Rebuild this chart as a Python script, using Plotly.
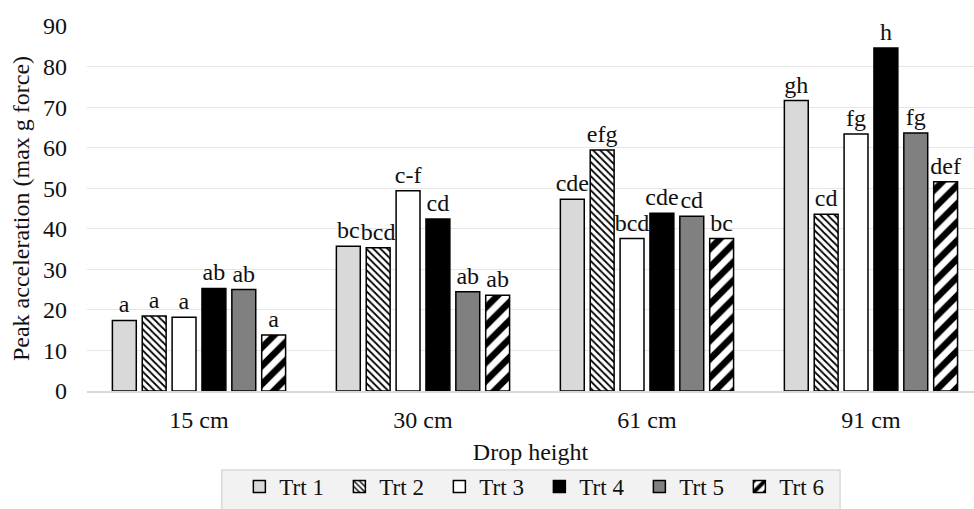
import plotly.graph_objects as go

categories = ["15 cm", "30 cm", "61 cm", "91 cm"]
treatments = ["Trt 1", "Trt 2", "Trt 3", "Trt 4", "Trt 5", "Trt 6"]

trt1 = [17.4, 35.7, 47.3, 71.6]
trt2 = [18.5, 35.3, 59.4, 43.6]
trt3 = [18.2, 49.4, 37.6, 63.4]
trt4 = [25.3, 42.4, 43.8, 84.6]
trt5 = [25.0, 24.5, 43.1, 63.6]
trt6 = [13.8, 23.6, 37.6, 51.6]

lbl1 = ["a", "bc", "cde", "gh"]
lbl2 = ["a", "bcd", "efg", "cd"]
lbl3 = ["a", "c-f", "bcd", "fg"]
lbl4 = ["ab", "cd", "cde", "h"]
lbl5 = ["ab", "ab", "cd", "fg"]
lbl6 = ["a", "ab", "bc", "def"]

values = [trt1, trt2, trt3, trt4, trt5, trt6]
labels = [lbl1, lbl2, lbl3, lbl4, lbl5, lbl6]

FONT = "Liberation Serif, serif"
TXT = "#111111"
FS = 24

styles = [
    dict(color="#d9d9d9"),
    dict(color="white", pattern=dict(shape="\\", fgcolor="black", bgcolor="white", size=5, solidity=0.35, fgopacity=1)),
    dict(color="white"),
    dict(color="black"),
    dict(color="#808080"),
    dict(color="white", pattern=dict(shape="/", fgcolor="black", bgcolor="white", size=13, solidity=0.5, fgopacity=1)),
]

fig = go.Figure()
for name, vals, lbls, st in zip(treatments, values, labels, styles):
    marker = dict(line=dict(color="black", width=1.5), **st)
    fig.add_trace(go.Bar(
        name=name, x=categories, y=vals, text=lbls,
        textposition="outside", constraintext="none", cliponaxis=False,
        textfont=dict(family=FONT, size=FS, color=TXT),
        marker=marker,
    ))

# legend background box (extends past the bottom edge like the reference)
fig.add_shape(
    type="rect", xref="paper", yref="paper",
    x0=0.152, x1=0.849, y0=-0.36, y1=-0.2164,
    fillcolor="#f2f2f2", line=dict(color="#d9d9d9", width=1.5), layer="below",
)

fig.update_layout(
    width=974, height=509,
    margin=dict(l=87, r=0, t=26, b=118),
    barmode="group", bargap=0.2, bargroupgap=0.2,
    plot_bgcolor="white", paper_bgcolor="white",
    font=dict(family=FONT, size=FS, color=TXT),
    showlegend=True,
    legend=dict(
        orientation="h", x=0.51, xanchor="center", y=-0.3205, yanchor="bottom",
        bgcolor="rgba(0,0,0,0)", borderwidth=0,
        font=dict(family=FONT, size=23, color=TXT),
        itemwidth=30, entrywidth=55, traceorder="normal",
    ),
    xaxis=dict(
        range=[-0.5, 3.46], showgrid=False, showline=True, linecolor="#d9d9d9", linewidth=1.5,
        ticks="", ticklabelstandoff=6, tickfont=dict(family=FONT, size=FS, color=TXT),
        title=dict(text="Drop height", font=dict(family=FONT, size=FS, color=TXT), standoff=12),
    ),
    yaxis=dict(
        range=[0, 90], dtick=10, showgrid=True, gridcolor="#e6e6e6", gridwidth=1,
        zeroline=False, ticks="", ticklabelstandoff=19,
        tickfont=dict(family=FONT, size=FS, color=TXT),
        title=dict(text="Peak acceleration (max g force)", font=dict(family=FONT, size=FS, color=TXT), standoff=6),
    ),
)

fig.write_html("out.html")
